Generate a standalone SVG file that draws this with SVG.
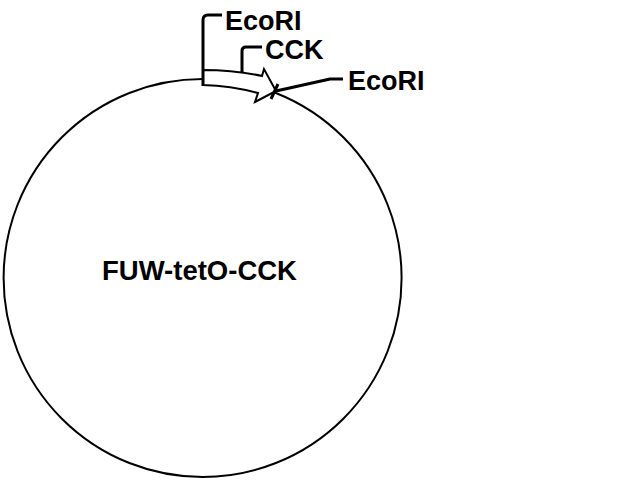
<svg xmlns="http://www.w3.org/2000/svg" width="640" height="480" viewBox="0 0 640 480">
<style>
.lbl{font-family:"Liberation Sans",Arial,sans-serif;font-weight:bold;font-size:24px;fill:#000}
.ln{fill:none;stroke:#000;stroke-width:3;stroke-linejoin:round}
</style>
<rect width="640" height="480" fill="#fff"/>
<g id="plasmid">
<circle cx="202.6" cy="278" r="199" fill="none" stroke="#000" stroke-width="2"/>
<text class="lbl" x="102" y="280" style="font-size:27.5px">FUW-tetO-CCK</text>
</g>
<g id="cck">
<path d="M203,70 Q235,70 262,76 L264,69 L276,91 L255,102 L258,93 Q232,86 203,85 Z" fill="#fff" stroke="#000" stroke-width="2" stroke-linejoin="miter"/>
</g>
<g id="connectors">
<path class="ln" d="M203,86 V20 Q203,15 208,15 H222"/>
<path class="ln" d="M242,73 V51 Q242,47 246,47 H262"/>
<path class="ln" d="M276,91 L330,79 H343"/>
<path class="ln" d="M271,99 L278,84"/>
</g>
<g id="labels">
<text class="lbl" x="225" y="30" style="font-size:27px">EcoRI</text>
<text class="lbl" x="265" y="59" style="font-size:27px">CCK</text>
<text class="lbl" x="348" y="90" style="font-size:27px">EcoRI</text>
</g>
</svg>
